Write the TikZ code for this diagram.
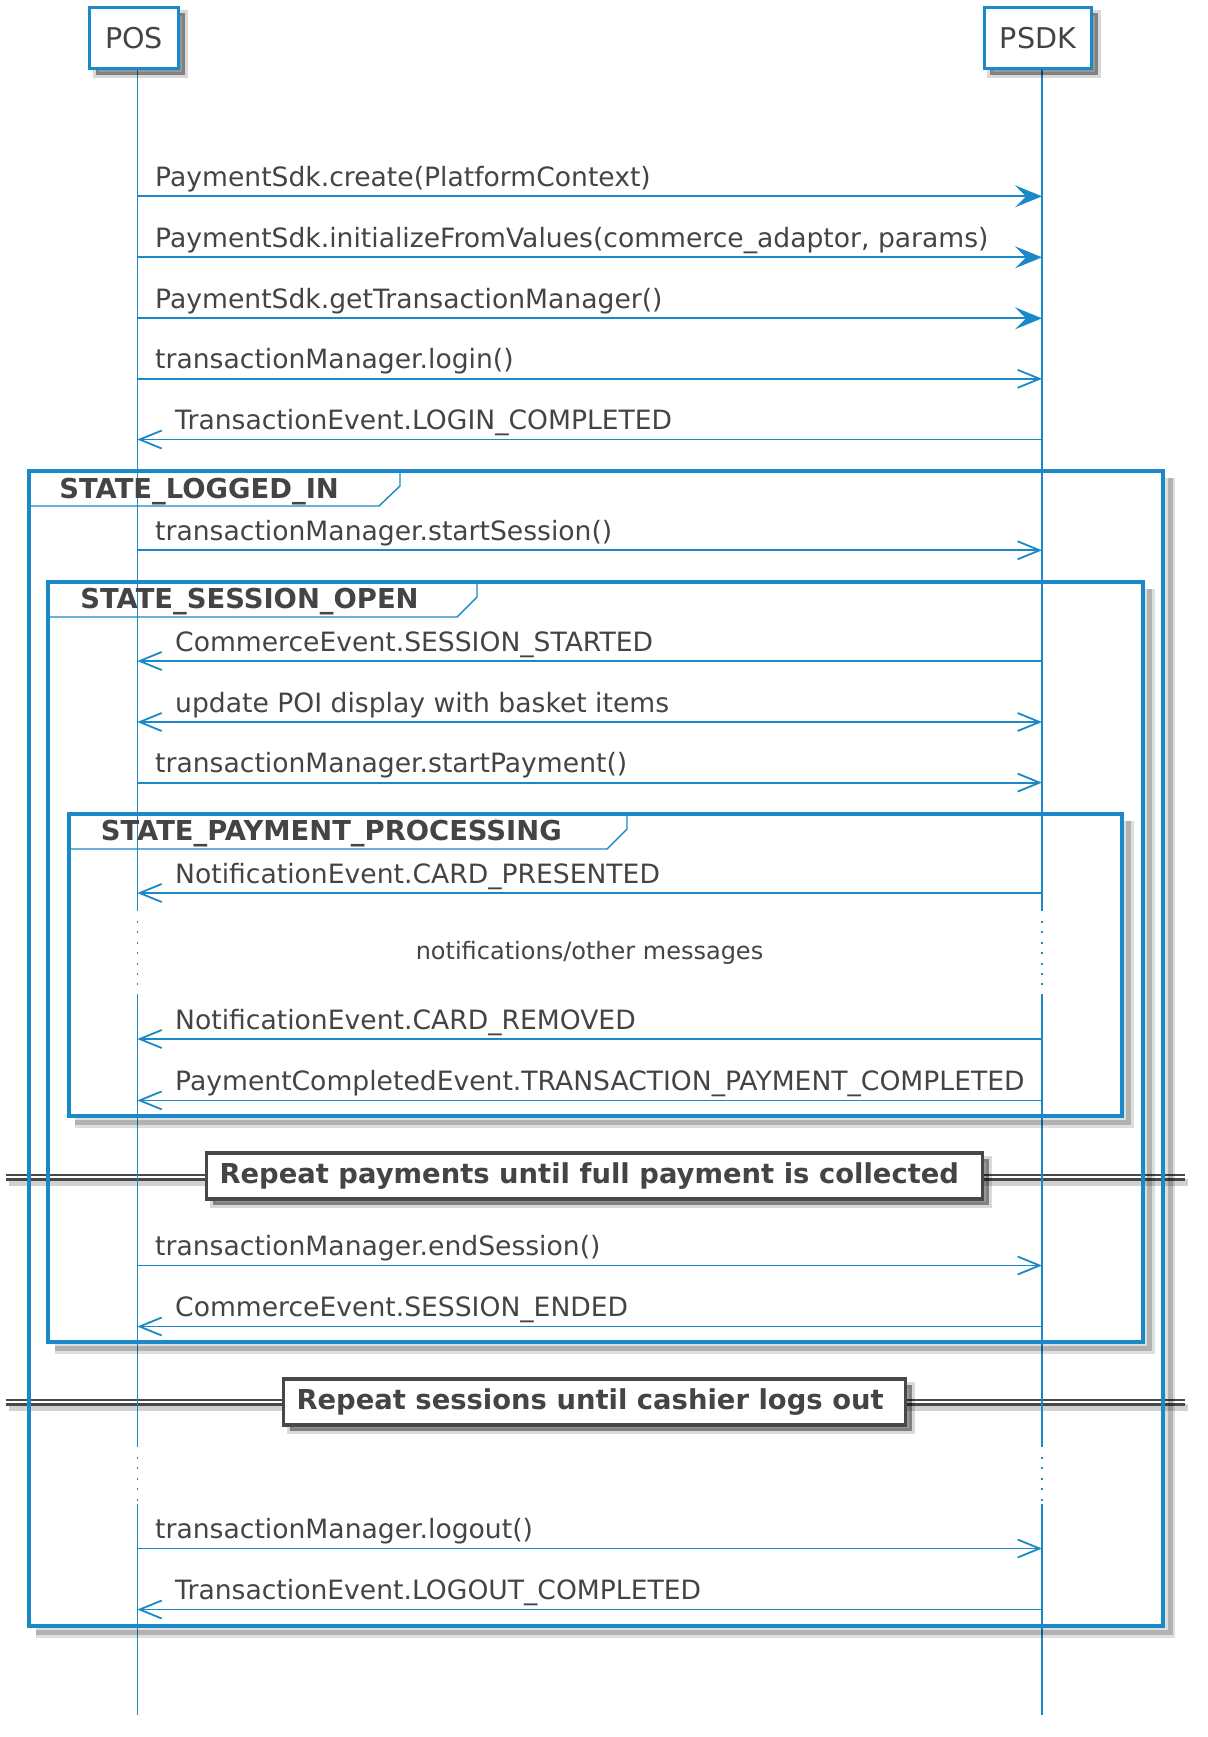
\documentclass[tikz,border=0pt]{standalone}
\usepackage{fontspec}
\setmainfont{DejaVu Sans}
\usetikzlibrary{arrows.meta,shadows}
\definecolor{umlblue}{RGB}{27,136,199}
\definecolor{umltext}{RGB}{68,68,68}
\definecolor{umldark}{RGB}{72,72,72}
\newcommand{\msgfont}{\fontsize{13.3}{16}\selectfont}
\newcommand{\boldfont}{\fontsize{13.7}{16}\selectfont\bfseries}
\tikzset{
	softshadow/.style={drop shadow={shadow xshift=3pt,shadow yshift=-3pt,fill=black,draw=black,line width=3pt,opacity=0.15},drop shadow={shadow xshift=3pt,shadow yshift=-3pt,fill=black,opacity=0.3}},
	partbox/.style={draw=umlblue,line width=1.6pt,fill=white,text=umltext,font=\fontsize{14.3}{17}\selectfont,minimum height=30.8pt,inner sep=0pt,softshadow},
	lifeline/.style={umlblue,line width=0.8pt},
	delayline/.style={umlblue,line width=0.8pt,dash pattern=on 1pt off 4.2pt},
	syncmsg/.style={umlblue,line width=0.9pt,-{Stealth[length=13.5pt,width=11pt,inset=5.5pt]}},
	asyncmsg/.style={umlblue,line width=0.9pt,-{Straight Barb[length=11pt,width=9pt]}},
	bothmsg/.style={umlblue,line width=0.9pt,{Straight Barb[length=11pt,width=9pt]}-{Straight Barb[length=11pt,width=9pt]}},
	rlabel/.style={pos=0,anchor=base west,xshift=8.5pt,yshift=5pt,inner sep=0pt,text=umltext,font=\msgfont},
	llabel/.style={pos=1,anchor=base west,xshift=18.5pt,yshift=5pt,inner sep=0pt,text=umltext,font=\msgfont},
	grpframe/.style={umlblue,line width=2pt},
	grpshade/.style={black,opacity=0.13,line width=5pt},
	grpshadecore/.style={black,opacity=0.2,line width=2.5pt},
	grptab/.style={umlblue,line width=0.7pt},
	grptitle/.style={anchor=base west,inner sep=0pt,text=umltext,font=\boldfont},
	divline/.style={umldark,line width=3.5pt},
	divgap/.style={white,line width=1.4pt},
	divshade/.style={black,opacity=0.18,line width=3.5pt},
	divbox/.style={draw=umldark,line width=1.8pt,fill=white,text=umltext,font=\boldfont,inner xsep=6.5pt,inner ysep=0pt,minimum height=22.75pt,softshadow},
	delaytext/.style={text=umltext,font=\fontsize{12}{14}\selectfont}
}
\begin{document}
\begin{tikzpicture}[x=0.5pt,y=-0.5pt]
	\useasboundingbox (0,0) rectangle (1207,1737);
	\coordinate (posL) at (137.3,70);
	\coordinate (psdkL) at (1042,70);

	% dividers
	\draw[divshade] (9,1182) -- (1188,1182);
	\draw[divline] (6,1177) -- (1185,1177);
	\draw[divgap] (6,1177) -- (1185,1177);
	\draw[divshade] (9,1407) -- (1188,1407);
	\draw[divline] (6,1402) -- (1185,1402);
	\draw[divgap] (6,1402) -- (1185,1402);

	% lifelines
	\foreach \l in {posL,psdkL} {
		\draw[lifeline] (\l) -- (\l |- 0,911);
		\draw[delayline] (\l |- 0,921) -- (\l |- 0,985);
		\draw[lifeline] (\l |- 0,994) -- (\l |- 0,1447);
		\draw[delayline] (\l |- 0,1457) -- (\l |- 0,1502);
		\draw[lifeline] (\l |- 0,1504) -- (\l |- 0,1715);
	}

	% groups
	\draw[grpshade] (1170,478) -- (1170,1632.5) -- (35.5,1632.5);
	\draw[grpshadecore] (1170,478) -- (1170,1632.5) -- (35.5,1632.5);
	\draw[grpframe] (28.5,471) rectangle (1163.3,1625.8);
	\draw[grptab] (28.5,506) -- (379,506) -- (400,486) -- (400,471);
	\node[grptitle] (loggedin) at (59,498) {STATE\_LOGGED\_IN};

	\draw[grpshade] (1149.5,589) -- (1149.5,1348.7) -- (54.5,1348.7);
	\draw[grpshadecore] (1149.5,589) -- (1149.5,1348.7) -- (54.5,1348.7);
	\draw[grpframe] (47.8,582) rectangle (1142.8,1342);
	\draw[grptab] (47.8,617) -- (457,617) -- (477,597) -- (477,582);
	\node[grptitle] (sessionopen) at (80,608) {STATE\_SESSION\_OPEN};

	\draw[grpshade] (1128.7,821) -- (1128.7,1122.7) -- (75.2,1122.7);
	\draw[grpshadecore] (1128.7,821) -- (1128.7,1122.7) -- (75.2,1122.7);
	\draw[grpframe] (68.5,814) rectangle (1122,1116);
	\draw[grptab] (68.5,849) -- (607,849) -- (627,829) -- (627,814);
	\node[grptitle] (payproc) at (100.5,840.5) {STATE\_PAYMENT\_PROCESSING};

	% participants
	\node[partbox,minimum width=44.5pt] (pos) at (134.2,38) {POS};
	\node[partbox,minimum width=53.6pt] (psdk) at (1038,38) {PSDK};

	% messages
	\draw[syncmsg] (posL |- 0,196.3) -- (psdkL |- 0,196.3) node[rlabel] {PaymentSdk.create(PlatformContext)};
	\draw[syncmsg] (posL |- 0,257.3) -- (psdkL |- 0,257.3) node[rlabel] {PaymentSdk.initializeFromValues(commerce\_adaptor, params)};
	\draw[syncmsg] (posL |- 0,318.3) -- (psdkL |- 0,318.3) node[rlabel] {PaymentSdk.getTransactionManager()};
	\draw[asyncmsg] (posL |- 0,378.8) -- (psdkL |- 0,378.8) node[rlabel] {transactionManager.login()};
	\draw[asyncmsg] (psdkL |- 0,439.5) -- (posL |- 0,439.5) node[llabel] {TransactionEvent.LOGIN\_COMPLETED};
	\draw[asyncmsg] (posL |- 0,550.3) -- (psdkL |- 0,550.3) node[rlabel] {transactionManager.startSession()};
	\draw[asyncmsg] (psdkL |- 0,661) -- (posL |- 0,661) node[llabel] {CommerceEvent.SESSION\_STARTED};
	\draw[bothmsg] (posL |- 0,722) -- (psdkL |- 0,722) node[llabel,pos=0] {update POI display with basket items};
	\draw[asyncmsg] (posL |- 0,782.6) -- (psdkL |- 0,782.6) node[rlabel] {transactionManager.startPayment()};
	\draw[asyncmsg] (psdkL |- 0,893) -- (posL |- 0,893) node[llabel] {NotificationEvent.CARD\_PRESENTED};
	\node[delaytext] (delay) at (589.5,953) {notifications/other messages};
	\draw[asyncmsg] (psdkL |- 0,1039) -- (posL |- 0,1039) node[llabel] {NotificationEvent.CARD\_REMOVED};
	\draw[asyncmsg] (psdkL |- 0,1100.4) -- (posL |- 0,1100.4) node[llabel] {PaymentCompletedEvent.TRANSACTION\_PAYMENT\_COMPLETED};
	\draw[asyncmsg] (posL |- 0,1265.5) -- (psdkL |- 0,1265.5) node[rlabel] {transactionManager.endSession()};
	\draw[asyncmsg] (psdkL |- 0,1326.5) -- (posL |- 0,1326.5) node[llabel] {CommerceEvent.SESSION\_ENDED};
	\draw[asyncmsg] (posL |- 0,1548.5) -- (psdkL |- 0,1548.5) node[rlabel] {transactionManager.logout()};
	\draw[asyncmsg] (psdkL |- 0,1609.5) -- (posL |- 0,1609.5) node[llabel] {TransactionEvent.LOGOUT\_COMPLETED};

	% divider boxes
	\node[divbox] (repeatpay) at (594.5,1176) {\makebox[375pt][l]{Repeat payments until full payment is collected}};
	\node[divbox] (repeatsess) at (594.5,1402) {\makebox[298pt][l]{Repeat sessions until cashier logs out}};
\end{tikzpicture}
\end{document}
